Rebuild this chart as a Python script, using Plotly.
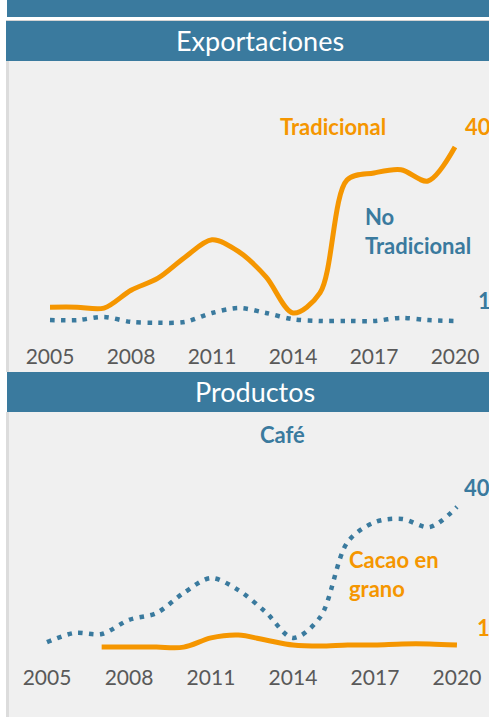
import plotly.graph_objects as go

W, H = 489, 717

years = list(range(2005, 2021))

# Exportaciones (index, hidden axis)
tradicional = [4.1, 4.1, 3.9, 7.9, 10.6, 15.3, 19.2, 16.5, 10.9, 2.8, 7.3, 32.6, 34.2, 34.9, 32.4, 40.0]
no_tradicional = [1.2, 1.2, 1.9, 0.8, 0.6, 0.8, 2.8, 3.9, 2.8, 1.4, 1.0, 1.0, 1.0, 1.7, 1.2, 1.0]

# Productos
cafe = [1.8, 4.4, 4.1, 8.1, 10.0, 15.7, 19.9, 16.5, 10.3, 3.0, 8.9, 30.1, 35.7, 36.6, 34.3, 40.0]
cacao = [None, None, 0.4, 0.4, 0.4, 0.4, 3.0, 3.8, 2.4, 1.0, 0.7, 1.0, 1.0, 1.3, 1.3, 1.0]

tick_years = [2005, 2008, 2011, 2014, 2017, 2020]

BLUE = "#3a7a9e"
ORANGE = "#f59600"
GRAY_BG = "#f0f0f0"
FONT = "Lato"


def px(x):
    return x / W


def py(y):
    return 1 - y / H


fig = go.Figure()

fig.add_trace(go.Scatter(x=years, y=tradicional, mode="lines", xaxis="x", yaxis="y",
                         line=dict(color=ORANGE, width=5, shape="spline", smoothing=0.9),
                         name="Tradicional"))
fig.add_trace(go.Scatter(x=years, y=no_tradicional, mode="lines", xaxis="x", yaxis="y",
                         line=dict(color=BLUE, width=4.5, shape="spline", smoothing=0.9,
                                   dash="4.5px,6.4px"),
                         name="No Tradicional"))
fig.add_trace(go.Scatter(x=years, y=cafe, mode="lines", xaxis="x2", yaxis="y2",
                         line=dict(color=BLUE, width=4.5, shape="spline", smoothing=0.9,
                                   dash="4.5px,6.4px"),
                         name="Café"))
fig.add_trace(go.Scatter(x=years, y=cacao, mode="lines", xaxis="x2", yaxis="y2",
                         line=dict(color=ORANGE, width=5, shape="spline", smoothing=0.9),
                         name="Cacao en grano"))

shapes = []


def rect(x0, y0, x1, y1, color):
    shapes.append(dict(type="rect", xref="paper", yref="paper", layer="below",
                       x0=px(x0), x1=px(x1), y0=py(y1), y1=py(y0),
                       fillcolor=color, line=dict(width=0)))


# gray panels with left border
rect(6, 61, 489, 372, "#dcdcdc")
rect(9, 61, 489, 372, GRAY_BG)
rect(6, 412, 489, 717, "#dcdcdc")
rect(9, 412, 489, 717, GRAY_BG)
# top band, separator, headers
rect(7, 0, 489, 17, BLUE)
rect(6, 20, 489, 21, "#d4d4d4")
rect(6, 21, 489, 61, BLUE)
rect(7, 372, 489, 412, BLUE)

annotations = []


def label(text, x, y, color, size=22, bold=True, xanchor="left"):
    annotations.append(dict(text=f"<b>{text}</b>" if bold else text,
                            xref="paper", yref="paper", x=px(x), y=py(y),
                            xanchor=xanchor, yanchor="middle", showarrow=False,
                            align="left" if xanchor == "left" else "center",
                            font=dict(family=FONT, size=size, color=color)))


label("Exportaciones", 260, 40, "white", size=27, bold=False, xanchor="center")
label("Productos", 255, 391, "white", size=27, bold=False, xanchor="center")

label("Tradicional", 333, 127, ORANGE, xanchor="center")
label("40", 463, 127, ORANGE)
label("No<br>Tradicional", 363, 231, BLUE)
label("1", 476, 300, BLUE)

label("Café", 282, 434, BLUE, xanchor="center")
label("40", 462, 487, BLUE)
label("Cacao en<br>grano", 347, 574, ORANGE)
label("1", 475, 627, ORANGE)

axis_common = dict(showgrid=False, zeroline=False, showline=False, ticks="",
                   tickfont=dict(family=FONT, size=21, color="#595959"),
                   tickvals=tick_years, ticktext=[str(t) for t in tick_years],
                   fixedrange=True)

fig.update_layout(
    width=W, height=H,
    margin=dict(l=0, r=0, t=0, b=0),
    paper_bgcolor="white", plot_bgcolor="rgba(0,0,0,0)",
    showlegend=False,
    shapes=shapes, annotations=annotations,
    xaxis=dict(domain=[0, 1], range=[2005 - 50 / 27, 2005 + (489 - 50) / 27],
               anchor="free", position=py(342), **axis_common),
    yaxis=dict(domain=[py(370), py(61)], range=[1 + (321 - 370) / 4.46, 1 + (321 - 61) / 4.46],
               visible=False, fixedrange=True),
    xaxis2=dict(domain=[0, 1], range=[2005 - 47 / 27.33, 2005 + (489 - 47) / 27.33],
                anchor="free", position=py(663), **axis_common),
    yaxis2=dict(domain=[py(717), py(412)], range=[1 + (645 - 717) / 3.54, 1 + (645 - 412) / 3.54],
                visible=False, fixedrange=True),
)

fig.write_html("out.html", config={"displayModeBar": False},
               post_script="document.body.style.margin='0';document.body.style.overflow='hidden';")
